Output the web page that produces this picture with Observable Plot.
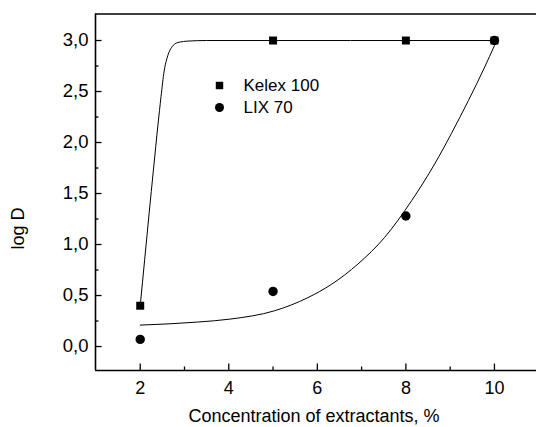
<!DOCTYPE html>
<html>
<head>
<meta charset="utf-8">
<script src="https://cdn.jsdelivr.net/npm/d3@7"></script>
<script src="https://cdn.jsdelivr.net/npm/@observablehq/plot@0.6"></script>
<style>
  html, body { margin: 0; padding: 0; background: #fff; }
  svg { font-family: "Liberation Sans", Arial, sans-serif; }
</style>
</head>
<body>
<div id="chart"></div>
<script>
// ---- data ----
const concentration = [2, 5, 8, 10];
const kelex100 = [0.40, 3.0, 3.0, 3.0];
const lix70 = [0.07, 0.54, 1.28, 3.0];

// fitted curves
const kelexCurveX = [2, 2.1, 2.2, 2.3, 2.4, 2.47, 2.54, 2.6, 2.69, 2.85, 3.1, 3.5, 10];
const kelexCurveY = [0.40, 0.85, 1.30, 1.74, 2.17, 2.45, 2.70, 2.82, 2.92, 2.98, 2.995, 3.0, 3.0];
const lixCurveX = [2, 3.3, 4.05, 5.03, 5.79, 6.32, 6.92, 7.52, 8.13, 8.65, 9.03, 9.41, 9.78, 10];
const lixCurveY = [0.21, 0.24, 0.27, 0.35, 0.48, 0.61, 0.81, 1.07, 1.43, 1.79, 2.09, 2.41, 2.74, 2.95];

const xMajor = [2, 4, 6, 8, 10];
const xMinor = [3, 5, 7, 9];
const yMajor = [0, 0.5, 1.0, 1.5, 2.0, 2.5, 3.0];
const yMinor = [0.25, 0.75, 1.25, 1.75, 2.25, 2.75];
const seriesNames = ["Kelex 100", "LIX 70"];
const xTitle = "Concentration of extractants, %";
const yTitle = "log D";

const xDomain = [0.99, 10.95];
const yDomain = [-0.235, 3.26];

const pts = (xs, ys) => xs.map((x, i) => ({x, y: ys[i]}));
const kelexPts = pts(concentration, kelex100);
const lixPts = pts(concentration, lix70);
const kelexCurve = pts(kelexCurveX, kelexCurveY);
const lixCurve = pts(lixCurveX, lixCurveY);

const W = 536, H = 427, mL = 95, mR = 0, mT = 13.5, mB = 57;
const fw = W - mL - mR, fh = H - mT - mB;
const fmt = d => d.toFixed(1).replace(".", ",");

const chart = Plot.plot({
  width: W,
  height: H,
  marginLeft: mL,
  marginRight: mR,
  marginTop: mT,
  marginBottom: mB,
  style: {fontFamily: '"Liberation Sans", Arial, sans-serif', background: "#fff", overflow: "visible"},
  x: {domain: xDomain, axis: null},
  y: {domain: yDomain, axis: null},
  marks: [
    // axis frame lines
    Plot.ruleX([xDomain[0]], {stroke: "#000", strokeWidth: 1.6}),
    Plot.ruleY([yDomain[0]], {stroke: "#000", strokeWidth: 1.6}),
    Plot.ruleY([yDomain[1]], {stroke: "#000", strokeWidth: 1.6}),
    // inward ticks
    Plot.ruleX(xMajor, {x: d => d, insetTop: fh - 6.5, stroke: "#000", strokeWidth: 1.3}),
    Plot.ruleX(xMinor, {x: d => d, insetTop: fh - 3.5, stroke: "#000", strokeWidth: 1.3}),
    Plot.ruleY(yMajor, {y: d => d, insetRight: fw - 6.5, stroke: "#000", strokeWidth: 1.3}),
    Plot.ruleY(yMinor, {y: d => d, insetRight: fw - 3.5, stroke: "#000", strokeWidth: 1.3}),
    // tick labels
    Plot.axisX(xMajor, {tickSize: 0, tickPadding: 11, fontSize: 18, label: null, fill: "#000"}),
    Plot.axisY(yMajor, {tickSize: 0, tickPadding: 7, fontSize: 18.5, label: null, tickFormat: fmt, fill: "#000"}),
    // axis titles
    Plot.text([xTitle], {frameAnchor: "bottom", dx: -2, dy: 46, fontSize: 18, fill: "#000", textAnchor: "middle", lineAnchor: "middle"}),
    Plot.text([yTitle], {frameAnchor: "top-left", dx: -77, dy: 214.5, rotate: -90, fontSize: 18, fill: "#000", textAnchor: "middle", lineAnchor: "middle"}),
    // fitted curves
    Plot.line(kelexCurve, {x: "x", y: "y", curve: "monotone-x", stroke: "#000", strokeWidth: 1}),
    Plot.line(lixCurve, {x: "x", y: "y", curve: "monotone-x", stroke: "#000", strokeWidth: 1}),
    // data points
    Plot.dot(kelexPts, {x: "x", y: "y", symbol: "square", r: 4.5, fill: "#000", stroke: "none"}),
    Plot.dot(lixPts, {x: "x", y: "y", symbol: "circle", r: 4.7, fill: "#000", stroke: "none"}),
    // legend
    Plot.dot([0], {frameAnchor: "top-left", dx: 124, dy: 71.5, symbol: "square", r: 4.2, fill: "#000", stroke: "none"}),
    Plot.dot([0], {frameAnchor: "top-left", dx: 124, dy: 93.5, symbol: "circle", r: 4.5, fill: "#000", stroke: "none"}),
    Plot.text([seriesNames[0]], {frameAnchor: "top-left", dx: 148, dy: 71.5, fontSize: 17, fill: "#000", textAnchor: "start", lineAnchor: "middle"}),
    Plot.text([seriesNames[1]], {frameAnchor: "top-left", dx: 148, dy: 93.5, fontSize: 17, fill: "#000", textAnchor: "start", lineAnchor: "middle"})
  ]
});
document.getElementById("chart").appendChild(chart);
</script>
</body>
</html>
